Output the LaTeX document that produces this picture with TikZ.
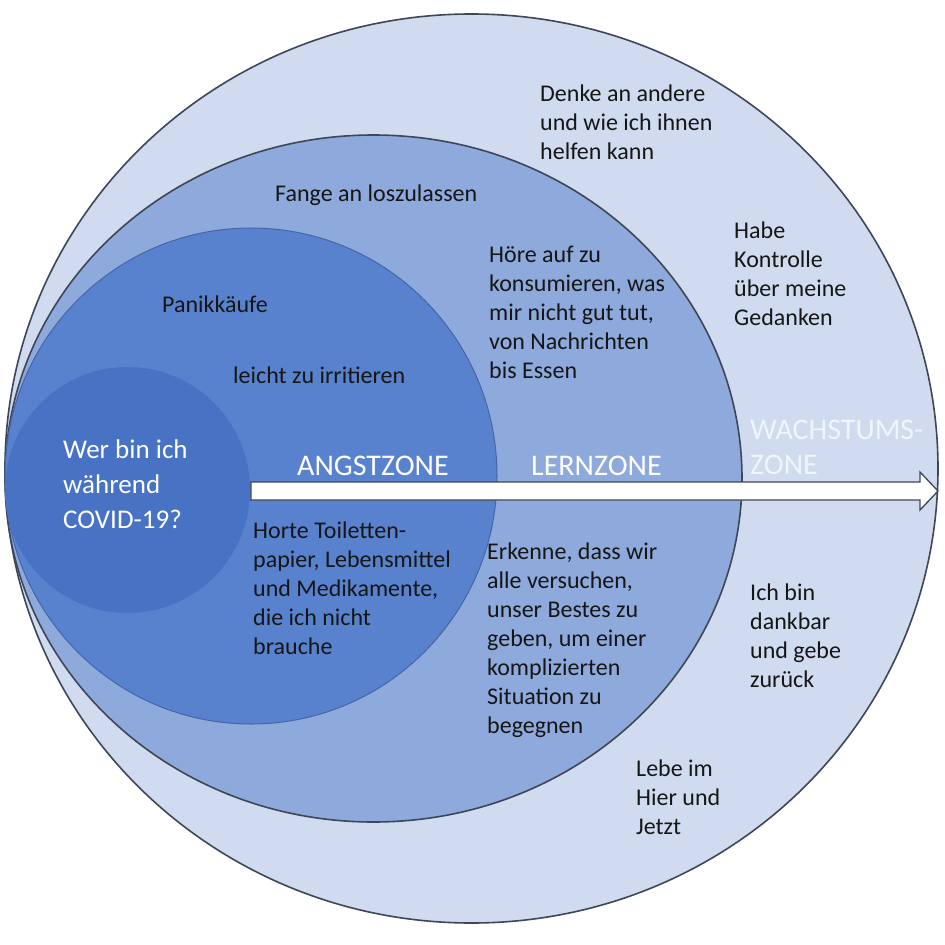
\documentclass[tikz,border=0pt]{standalone}
\usepackage{fontspec}
\setmainfont{Carlito}
\definecolor{zoneG}{HTML}{D0DBEF}
\definecolor{zoneL}{HTML}{8EA9DB}
\definecolor{zoneA}{HTML}{5882CD}
\definecolor{zoneC}{HTML}{4873C4}
\definecolor{rim}{HTML}{3E4658}
\definecolor{rimA}{HTML}{4466A8}
\definecolor{textdark}{HTML}{161616}
\definecolor{faint}{HTML}{F0F4FB}
\tikzset{
  txt/.style={anchor=west, align=left, inner sep=0pt, text=textdark, font=\fontsize{24}{29}\selectfont},
  zonelbl/.style={anchor=west, align=left, inner sep=0pt, text=white, font=\fontsize{30}{35}\selectfont},
  corelbl/.style={anchor=west, align=left, inner sep=0pt, text=white, font=\fontsize{27}{35}\selectfont},
}
\begin{document}
\begin{tikzpicture}[x=1pt,y=-1pt]
\useasboundingbox (0,0) rectangle (945,945);
\fill[white] (0,0) rectangle (945,945);
% zones
\draw[fill=zoneG, draw=rim, line width=1.6pt] (471.5,468.5) ellipse [x radius=466.5pt, y radius=454.5pt];
\draw[fill=zoneL, draw=rim, line width=1.6pt] (373.5,478.5) ellipse [x radius=368.5pt, y radius=343.5pt];
\draw[fill=zoneA, draw=rimA, line width=1pt] (251,476) ellipse [x radius=246pt, y radius=248pt];
\fill[zoneC] (127.5,490) ellipse [x radius=122.5pt, y radius=123pt];
% arrow
\draw[fill=white, draw=rim, line width=1.3pt, line join=miter]
  (251,482) -- (920,482) -- (920,472) -- (938,491) -- (920,510) -- (920,500) -- (251,500) -- cycle;
% texts
\node[txt] (denke) at (540,122) {Denke an andere\\und wie ich ihnen\\helfen kann};
\node[txt] (fange) at (275,195) {Fange an loszulassen};
\node[txt] (hoere) at (489,312) {Höre auf zu\\konsumieren, was\\mir nicht gut tut,\\von Nachrichten\\bis Essen};
\node[txt] (habe) at (734,273.5) {Habe\\Kontrolle\\über meine\\Gedanken};
\node[txt] (panik) at (162,304) {Panikkäufe};
\node[txt] (leicht) at (233,375) {leicht zu irritieren};
\node[corelbl] (wer) at (63,484) {Wer bin ich\\während\\COVID-19?};
\node[zonelbl] (angst) at (297,466) {ANGSTZONE};
\node[zonelbl] (lern) at (531,466) {LERNZONE};
\node[zonelbl, text=faint] (wachs) at (750,447.5) {WACHSTUMS-\\ZONE};
\node[txt] (horte) at (253,588) {Horte Toiletten-\\papier, Lebensmittel\\und Medikamente,\\die ich nicht\\brauche};
\node[txt] (erkenne) at (487,640.5) {Erkenne, dass wir\\alle versuchen,\\unser Bestes zu\\geben, um einer\\komplizierten\\Situation zu\\begegnen};
\node[txt] (dankbar) at (750,636) {Ich bin\\dankbar\\und gebe\\zurück};
\node[txt] (lebe) at (636,797) {Lebe im\\Hier und\\Jetzt};
\end{tikzpicture}
\end{document}
